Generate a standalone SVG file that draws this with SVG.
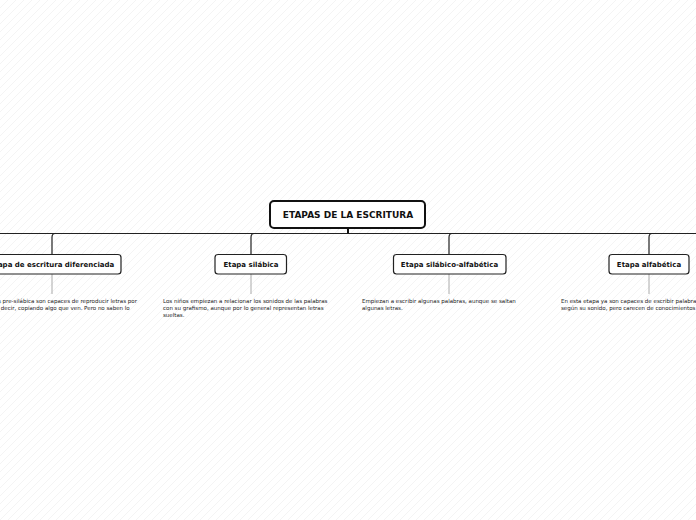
<svg xmlns="http://www.w3.org/2000/svg" width="696" height="520" viewBox="0 0 696 520">
<defs>
<pattern id="hatch" patternUnits="userSpaceOnUse" width="8" height="8">
<path d="M-2,2 L2,-2 M0,8 L8,0 M6,10 L10,6" stroke="#efefef" stroke-width="0.7"/>
</pattern>
<style>
.root{fill:#fff;stroke:#111;stroke-width:2}
.node{fill:#fff;stroke:#222;stroke-width:1.2}
.rt{font-family:"DejaVu Sans",Verdana,sans-serif;font-weight:bold;font-size:9px;fill:#111;text-anchor:middle}
.nt{font-family:"DejaVu Sans",Verdana,sans-serif;font-weight:bold;font-size:7px;fill:#111;text-anchor:middle}
.dt{font-family:"DejaVu Sans",Verdana,sans-serif;font-size:5.5px;fill:#222}
.br{fill:none;stroke:#222;stroke-width:1.2}
.gl{fill:none;stroke:#aaa;stroke-width:1}
</style>
</defs>
<rect width="696" height="520" fill="#fff"/>
<rect width="696" height="520" fill="url(#hatch)"/>
<g id="connectors">
<path class="br" d="M0,233.5 H696"/>
<path d="M348,228 V233.5" stroke="#111" stroke-width="2"/>
<path class="br" d="M52,254 V237.5 Q52,233.5 55,233.5"/>
<path class="br" d="M251,254 V237.5 Q251,233.5 254,233.5"/>
<path class="br" d="M449,254 V237.5 Q449,233.5 452,233.5"/>
<path class="br" d="M649,254 V237.5 Q649,233.5 652,233.5"/>
<path class="gl" d="M52,274 V294 M251,274 V294 M449,274 V294 M649,274 V294"/>
</g>
<g id="root">
<rect class="root" x="270" y="201" width="155" height="27" rx="4"/>
<text class="rt" x="348" y="218.2">ETAPAS DE LA ESCRITURA</text>
</g>
<g id="n1">
<rect class="node" x="-17" y="254.5" width="138" height="19.5" rx="3"/>
<text class="nt" x="52" y="266.8">Etapa de escritura diferenciada</text>
<text class="dt" x="-36" y="302.8">En las etapas pre-silábica son capaces de reproducir letras por</text>
<text class="dt" x="-36" y="309.8">imitación, es decir, copiando algo que ven. Pero no saben lo</text>
</g>
<g id="n2">
<rect class="node" x="215" y="254.5" width="71.5" height="19.5" rx="3"/>
<text class="nt" x="251" y="266.8">Etapa silábica</text>
<text class="dt" x="163" y="302.8">Los niños empiezan a relacionar los sonidos de las palabras</text>
<text class="dt" x="163" y="309.8">con su grafismo, aunque por lo general representan letras</text>
<text class="dt" x="163" y="316.8">sueltas.</text>
</g>
<g id="n3">
<rect class="node" x="393.5" y="254.5" width="112.5" height="19.5" rx="3"/>
<text class="nt" x="449.5" y="266.8">Etapa silábico-alfabética</text>
<text class="dt" x="362" y="302.8">Empiezan a escribir algunas palabras, aunque se saltan</text>
<text class="dt" x="362" y="309.8">algunas letras.</text>
</g>
<g id="n4">
<rect class="node" x="609" y="254.5" width="80" height="19.5" rx="3"/>
<text class="nt" x="649" y="266.8">Etapa alfabética</text>
<text class="dt" x="561" y="302.8">En esta etapa ya son capaces de escribir palabras</text>
<text class="dt" x="561" y="309.8">según su sonido, pero carecen de conocimientos</text>
</g>
</svg>
